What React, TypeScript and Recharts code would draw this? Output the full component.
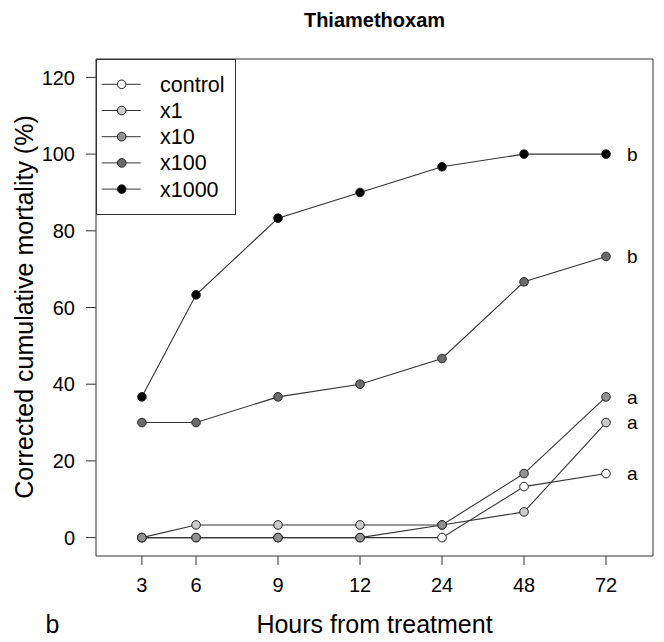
import { LineChart, Line, XAxis, YAxis, ReferenceArea, LabelList, Legend } from 'recharts';

// Hours after treatment, the slot each one sits in along the x axis, and the y ticks
const hours = ['3', '6', '9', '12', '24', '48', '72'];
const hourSlots = [0.34, 1, 2, 3, 4, 5, 6];
const mortalityTicks = [0, 20, 40, 60, 80, 100, 120];

// Corrected cumulative mortality (%) per dose
const control = [0, 0, 0, 0, 0, 13.3, 16.7];
const x1 = [0, 3.3, 3.3, 3.3, 3.3, 6.7, 30];
const x10 = [0, 0, 0, 0, 3.3, 16.7, 36.7];
const x100 = [30, 30, 36.7, 40, 46.7, 66.7, 73.3];
const x1000 = [36.7, 63.3, 83.3, 90, 96.7, 100, 100];

// Letters of the significance groups at 72 h
const groups = ['a', 'a', 'a', 'b', 'b'];

const series = [
  { key: 'control', name: 'control', values: control, fill: '#ffffff' },
  { key: 'x1', name: 'x1', values: x1, fill: '#cccccc' },
  { key: 'x10', name: 'x10', values: x10, fill: '#929292' },
  { key: 'x100', name: 'x100', values: x100, fill: '#6a6a6a' },
  { key: 'x1000', name: 'x1000', values: x1000, fill: '#000000' },
];

const data = hours.map((h, i) => {
  const row: Record<string, number | string | null> = { hour: h, slot: hourSlots[i] };
  series.forEach((s, k) => {
    row[s.key] = s.values[i];
    row[`${s.key}Group`] = i === hours.length - 1 ? groups[k] : null;
  });
  return row;
});

const FONT = "'Liberation Sans', Arial, Helvetica, sans-serif";
const INK = '#333';
const X_DOMAIN: [number, number] = [-0.22, 6.573];
const Y_DOMAIN: [number, number] = [-4.8, 124.8];

function DoseLegend() {
  return (
    <svg width={140} height={156} style={{ display: 'block', fontFamily: FONT }}>
      <rect x={0.5} y={0.5} width={139} height={155} fill="#fff" stroke={INK} />
      {series.map((s, i) => {
        const y = 25.3 + i * 26.2;
        return (
          <g key={s.key}>
            <line x1={5.7} x2={44.7} y1={y} y2={y} stroke={INK} />
            <circle cx={25.7} cy={y} r={4.3} fill={s.fill} stroke="#222" />
            <text x={64} y={y} dy="0.35em" fontSize={21.5} fill="#000">
              {s.name}
            </text>
          </g>
        );
      })}
    </svg>
  );
}

export default function App() {
  return (
    <div style={{ position: 'absolute', left: 0, top: 0, width: 664, height: 642, background: '#fff' }}>
      <LineChart
        width={664}
        height={642}
        data={data}
        margin={{ top: 59, right: 11, bottom: 46, left: 36 }}
        style={{ fontFamily: FONT }}
      >
        <XAxis
          type="number"
          dataKey="slot"
          domain={X_DOMAIN}
          ticks={hourSlots}
          tickFormatter={(v: number) => hours[hourSlots.indexOf(v)] ?? ''}
          axisLine={false}
          tickSize={9}
          tickMargin={13}
          tickLine={{ stroke: INK }}
          tick={{ fill: '#000', fontSize: 20 }}
          height={40}
          allowDataOverflow
        />
        <YAxis
          type="number"
          domain={Y_DOMAIN}
          ticks={mortalityTicks}
          axisLine={false}
          tickSize={10}
          tickMargin={11}
          tickLine={{ stroke: INK }}
          tick={{ fill: '#000', fontSize: 20 }}
          width={60}
          allowDataOverflow
        />
        <ReferenceArea
          x1={X_DOMAIN[0]}
          x2={X_DOMAIN[1]}
          y1={Y_DOMAIN[0]}
          y2={Y_DOMAIN[1]}
          fill="none"
          fillOpacity={0}
          stroke={INK}
          strokeOpacity={1}
          ifOverflow="visible"
        />
        {series.map((s) => (
          <Line
            key={s.key}
            dataKey={s.key}
            name={s.name}
            type="linear"
            stroke={INK}
            strokeWidth={1.1}
            dot={{ r: 4.3, fill: s.fill, stroke: '#222', strokeWidth: 1 }}
            activeDot={false}
            isAnimationActive={false}
          >
            <LabelList dataKey={`${s.key}Group`} position="right" offset={21} fontSize={19} fill="#000" />
          </Line>
        ))}
        <Legend
          layout="vertical"
          align="center"
          verticalAlign="middle"
          content={() => <DoseLegend />}
          wrapperStyle={{ left: 96, top: 59, width: 140, height: 156 }}
        />
      </LineChart>
      <svg
        width={664}
        height={642}
        style={{ position: 'absolute', left: 0, top: 0, pointerEvents: 'none', fontFamily: FONT }}
      >
        <text x={374.5} y={27} textAnchor="middle" fontSize={20} fontWeight="bold" fill="#000">
          Thiamethoxam
        </text>
        <text x={374.5} y={633} textAnchor="middle" fontSize={25} fill="#000">
          Hours from treatment
        </text>
        <text x={45.5} y={633} fontSize={25} fill="#000">
          b
        </text>
        <text x={33} y={307} transform="rotate(-90 33 307)" textAnchor="middle" fontSize={25} fill="#000">
          Corrected cumulative mortality (%)
        </text>
      </svg>
    </div>
  );
}
